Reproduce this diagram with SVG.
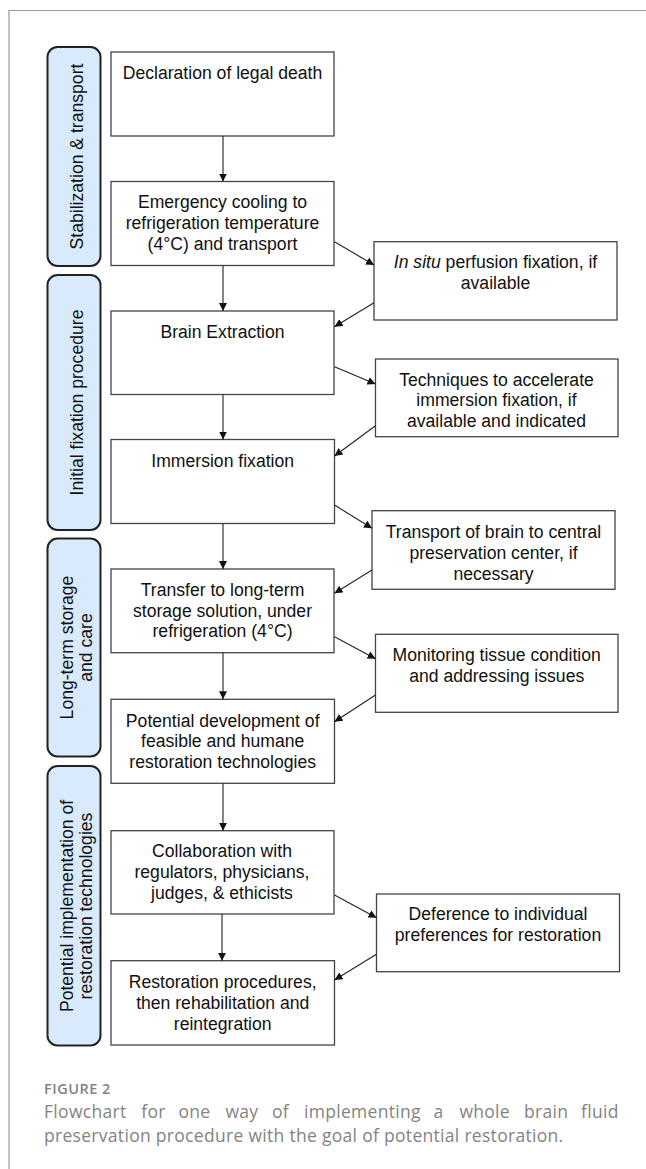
<svg xmlns="http://www.w3.org/2000/svg" width="646" height="1169" viewBox="0 0 646 1169">
<defs>
<marker id="ah" viewBox="0 0 10 10" refX="10" refY="5" markerWidth="8" markerHeight="8" markerUnits="userSpaceOnUse" orient="auto">
<path d="M0,0 L10,5 L0,10 z" fill="#111"/>
</marker>
<style>
.box{fill:#fff;stroke:#444;stroke-width:1.3}
.side{fill:#d8eafc;stroke:#222;stroke-width:2}
.t{font-family:"Liberation Sans",Arial,sans-serif;font-size:17.6px;fill:#111;text-anchor:middle}
.c{stroke:#222;stroke-width:1.1;fill:none;marker-end:url(#ah)}
.cap{font-family:"Open Sans","Noto Sans",sans-serif;fill:#838383}
</style>
</defs>
<rect width="646" height="1169" fill="#fff"/>
<path d="M9,1169 V10.5 H646" fill="none" stroke="#999" stroke-width="1.2"/>

<g id="phase-stabilization">
<rect class="side" x="47.5" y="47" width="53" height="219" rx="10"/>
<text class="t" transform="translate(82.5,156.5) rotate(-90)">Stabilization &amp; transport</text>
</g>
<g id="phase-initial-fixation">
<rect class="side" x="47.5" y="275" width="53" height="255" rx="10"/>
<text class="t" transform="translate(82.5,402.5) rotate(-90)">Initial fixation procedure</text>
</g>
<g id="phase-long-term">
<rect class="side" x="47.5" y="538.5" width="53" height="218" rx="10"/>
<text class="t" transform="translate(72.5,647.5) rotate(-90)">Long-term storage</text>
<text class="t" transform="translate(92,647.5) rotate(-90)">and care</text>
</g>
<g id="phase-restoration">
<rect class="side" x="47.5" y="766" width="53" height="279.5" rx="10"/>
<text class="t" transform="translate(72.5,906) rotate(-90)">Potential implementation of</text>
<text class="t" transform="translate(92,906) rotate(-90)">restoration technologies</text>
</g>

<g id="n-declaration">
<rect class="box" x="111" y="52" width="223" height="84"/>
<text class="t" x="222.5" y="78.5">Declaration of legal death</text>
</g>
<g id="n-emergency">
<rect class="box" x="111" y="181.5" width="223" height="84"/>
<text class="t" x="222.5" y="208.3">Emergency cooling to</text>
<text class="t" x="222.5" y="229">refrigeration temperature</text>
<text class="t" x="222.5" y="250">(4°C) and transport</text>
</g>
<g id="n-insitu">
<rect class="box" x="374" y="241.7" width="243" height="78.3"/>
<text class="t" x="495.5" y="268.3"><tspan font-style="italic">In situ</tspan> perfusion fixation, if</text>
<text class="t" x="495.5" y="289">available</text>
</g>
<g id="n-brain-extraction">
<rect class="box" x="111" y="311" width="223" height="83.5"/>
<text class="t" x="222.5" y="337.5">Brain Extraction</text>
</g>
<g id="n-techniques">
<rect class="box" x="375.5" y="359" width="242.5" height="77.7"/>
<text class="t" x="496.5" y="385.5">Techniques to accelerate</text>
<text class="t" x="496.5" y="406">immersion fixation, if</text>
<text class="t" x="496.5" y="426.7">available and indicated</text>
</g>
<g id="n-immersion">
<rect class="box" x="111" y="439.5" width="223.5" height="84"/>
<text class="t" x="222.7" y="466.5">Immersion fixation</text>
</g>
<g id="n-transport">
<rect class="box" x="372" y="510.7" width="243" height="78.6"/>
<text class="t" x="493.5" y="538.3">Transport of brain to central</text>
<text class="t" x="493.5" y="559">preservation center, if</text>
<text class="t" x="493.5" y="579.7">necessary</text>
</g>
<g id="n-transfer">
<rect class="box" x="111" y="569" width="223" height="83.7"/>
<text class="t" x="222.5" y="596">Transfer to long-term</text>
<text class="t" x="222.5" y="616.7">storage solution, under</text>
<text class="t" x="222.5" y="637.3">refrigeration (4°C)</text>
</g>
<g id="n-monitoring">
<rect class="box" x="375.5" y="634.3" width="242.5" height="78"/>
<text class="t" x="496.7" y="661">Monitoring tissue condition</text>
<text class="t" x="496.7" y="681.7">and addressing issues</text>
</g>
<g id="n-potential">
<rect class="box" x="111" y="699.3" width="223.5" height="84"/>
<text class="t" x="222.7" y="726.7">Potential development of</text>
<text class="t" x="222.7" y="747.3">feasible and humane</text>
<text class="t" x="222.7" y="768">restoration technologies</text>
</g>
<g id="n-collaboration">
<rect class="box" x="111" y="830.7" width="223" height="83.3"/>
<text class="t" x="222" y="857.3">Collaboration with</text>
<text class="t" x="222" y="878">regulators, physicians,</text>
<text class="t" x="222" y="898.7">judges, &amp; ethicists</text>
</g>
<g id="n-deference">
<rect class="box" x="376.5" y="894" width="243" height="77.7"/>
<text class="t" x="498" y="920.3">Deference to individual</text>
<text class="t" x="498" y="941">preferences for restoration</text>
</g>
<g id="n-restoration">
<rect class="box" x="111" y="960.7" width="223.5" height="84.3"/>
<text class="t" x="222.7" y="988.3">Restoration procedures,</text>
<text class="t" x="222.7" y="1009">then rehabilitation and</text>
<text class="t" x="222.7" y="1029.7">reintegration</text>
</g>

<g id="connectors">
<line class="c" x1="223" y1="136" x2="223" y2="181.5"/>
<line class="c" x1="223" y1="265.5" x2="223" y2="311"/>
<line class="c" x1="223" y1="394.5" x2="223" y2="439.5"/>
<line class="c" x1="223" y1="523.5" x2="223" y2="569"/>
<line class="c" x1="223" y1="652.7" x2="223" y2="699.3"/>
<line class="c" x1="223" y1="783.3" x2="223" y2="830.7"/>
<line class="c" x1="222" y1="914" x2="222" y2="960.7"/>
<line class="c" x1="334.5" y1="241.7" x2="374" y2="265"/>
<line class="c" x1="374" y1="302.7" x2="334.5" y2="326.7"/>
<line class="c" x1="334.5" y1="366.7" x2="375.5" y2="384"/>
<line class="c" x1="375.5" y1="425.7" x2="334.5" y2="456"/>
<line class="c" x1="334.5" y1="505" x2="372" y2="528.3"/>
<line class="c" x1="372" y1="570" x2="334.5" y2="593.3"/>
<line class="c" x1="334.5" y1="636.7" x2="375.5" y2="658.7"/>
<line class="c" x1="375.5" y1="695" x2="334.5" y2="721.7"/>
<line class="c" x1="334.5" y1="895" x2="376.5" y2="917.7"/>
<line class="c" x1="376.5" y1="954.3" x2="334.5" y2="980"/>
</g>

<g id="caption">
<text class="cap" x="44" y="1094.3" font-size="14.5" font-weight="600" letter-spacing="0.5" fill="#8a8a8a">FIGURE 2</text>
<text class="cap" y="1118.3" font-size="17.5" letter-spacing="0.3"><tspan x="44">Flowchart</tspan><tspan x="141.3">for</tspan><tspan x="178.4">one</tspan><tspan x="225.4">way</tspan><tspan x="272">of</tspan><tspan x="304">implementing</tspan><tspan x="433.5">a</tspan><tspan x="459.4">whole</tspan><tspan x="524">brain</tspan><tspan x="581">fluid</tspan></text>
<text class="cap" x="44" y="1141.7" font-size="17.5" letter-spacing="0.3">preservation procedure with the goal of potential restoration.</text>
</g>
</svg>
